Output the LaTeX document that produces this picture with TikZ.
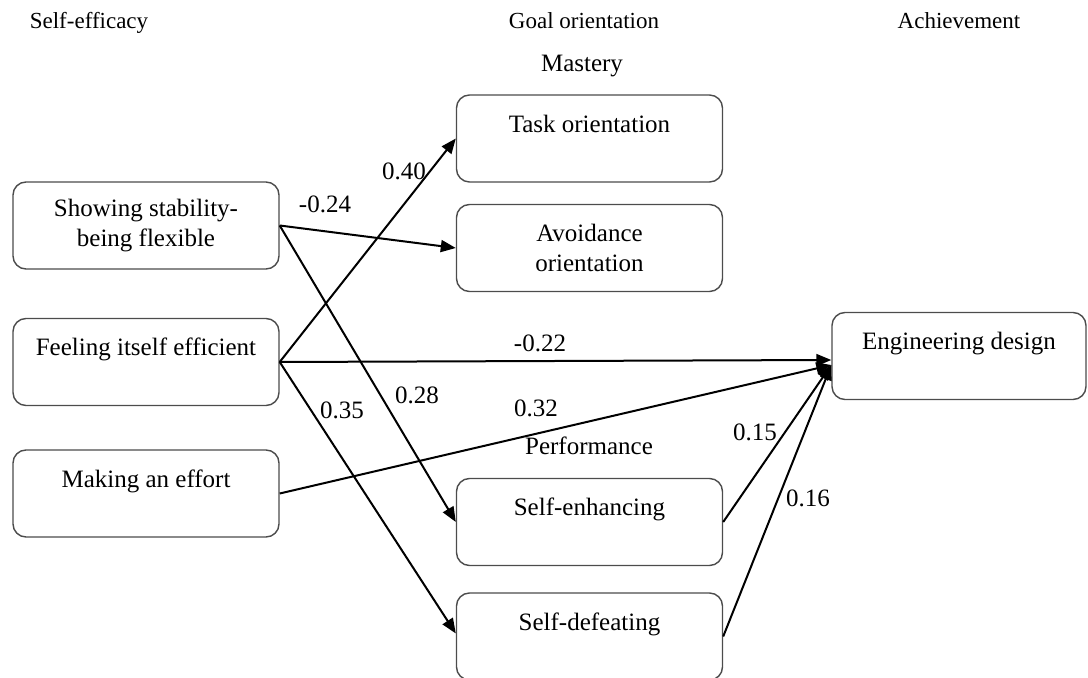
\documentclass[tikz,border=0pt]{standalone}
\usepackage{fontspec}
\setmainfont{Liberation Serif}
\usetikzlibrary{arrows.meta}
\begin{document}
\begin{tikzpicture}[x=0.5pt,y=-0.5pt,
 box/.style={draw=black!70, line width=0.7pt, rounded corners=6.5pt, minimum width=133pt, minimum height=43.5pt, align=center, inner sep=0pt, font=\fontsize{12.5}{15}\selectfont},
 hdr/.style={font=\fontsize{11.5}{14}\selectfont, anchor=base},
 grp/.style={font=\fontsize{12.5}{15}\selectfont, anchor=base},
 coef/.style={font=\fontsize{12.5}{15}\selectfont, inner sep=0pt},
 arr/.style={line width=1pt, -{Triangle[length=7.5pt,width=6pt]}}]
\useasboundingbox (0,0) rectangle (1088,678);
\clip (0,0) rectangle (1088,678);
% headers
\node[hdr] (h1) at (89,29) {Self-efficacy};
\node[hdr] (h2) at (584,29) {Goal orientation};
\node[hdr] (h3) at (959,29) {Achievement};
\node[grp] (mas) at (582,72) {Mastery};
\node[grp] (perf) at (589,455) {Performance};
% boxes
\node[box] (show) at (146,225.5) {Showing stability-\\being flexible};
\node[box] (feel) at (146,362) {Feeling itself efficient\\\mbox{}};
\node[box] (make) at (146,493.5) {Making an effort\\\mbox{}};
\node[box] (task) at (589.5,138.5) {Task orientation\\\mbox{}};
\node[box] (avoid) at (589.5,248) {Avoidance\\orientation};
\node[box] (enh) at (589.5,522) {Self-enhancing\\\mbox{}};
\node[box] (def) at (589.5,636.5) {Self-defeating\\\mbox{}};
\node[box, minimum width=127pt] (eng) at (959,356) {Engineering design\\\mbox{}};
% arrows
\draw[arr] (feel.east) -- (task.west);
\draw[arr] (show.east) -- (avoid.west);
\draw[arr] (show.east) -- (enh.west);
\draw[arr] (feel.east) -- ([yshift=-2pt]eng.west);
\draw[arr] (feel.east) -- ([yshift=1.5pt]def.west);
\draw[arr] (make.east) -- ([yshift=-4.5pt]eng.west);
\draw[arr] (enh.east) -- ([yshift=-4.5pt]eng.west);
\draw[arr] (def.east) -- ([yshift=-4.5pt]eng.west);
% coefficients
\node[coef] (c1) at (325,204) {-0.24};
\node[coef] (c2) at (404,171) {0.40};
\node[coef] (c3) at (417,395) {0.28};
\node[coef] (c4) at (342,410) {0.35};
\node[coef] (c5) at (540,343) {-0.22};
\node[coef] (c6) at (536,408) {0.32};
\node[coef] (c7) at (755,432) {0.15};
\node[coef] (c8) at (808,498) {0.16};
\end{tikzpicture}
\end{document}
